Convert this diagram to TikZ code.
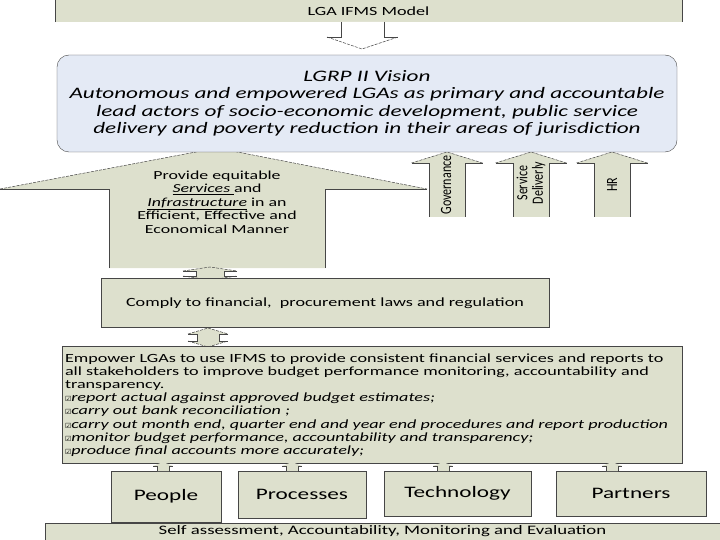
\documentclass[tikz,border=0pt]{standalone}
\usepackage{fontspec}
\setmainfont{Carlito}[FakeStretch=1.45]
\newfontfamily\plainfont{Carlito}
\newfontfamily\symfont{DejaVu Sans}
\usepackage{tikz}
\usetikzlibrary{positioning}
\definecolor{olivebg}{RGB}{221,224,205}
\definecolor{visionbg}{RGB}{228,234,245}
\definecolor{edge}{RGB}{70,70,70}
\newcommand{\tickbox}{{\symfont\fontsize{7}{7}\selectfont ☑}}
\tikzset{
  box/.style   ={draw=edge, fill=olivebg, rectangle, inner sep=0pt, align=center},
  vbox/.style  ={draw=edge, fill=visionbg, rectangle, rounded corners=12pt, inner sep=0pt, align=center},
  rim/.style   ={draw=edge, line width=0.6pt},
  slant/.style ={draw=edge, line width=0.5pt, dash pattern=on 3pt off 1.2pt},
  rot/.style   ={rotate=90, yscale=1.3, font=\plainfont\fontsize{12}{12}\selectfont, align=center},
}

\begin{document}
\begin{tikzpicture}[x=1pt, y=-1pt]
  \useasboundingbox (0,0) rectangle (720,540);

  % model banner (open at the bottom)
  \node[fill=olivebg, minimum width=627pt, minimum height=22pt, inner sep=0pt] (model) at (368.5,11)
       {\fontsize{12.5}{13}\selectfont LGA IFMS Model};
  \draw[rim] (model.south west) -- (model.north west) -- (model.north east) -- (model.south east);

  % down arrow into the vision box
  \fill[white] (341,22) -- (341,37) -- (327,37) -- (362,49) -- (398,37) -- (384,37) -- (384,22) -- cycle;
  \draw[rim] (341,22) -- (341,37) -- (327,37);
  \draw[rim] (384,22) -- (384,37) -- (398,37);
  \draw[slant] (327,37) -- (362,49) -- (398,37);

  % big up arrow
  \fill[olivebg] (109,268) -- (109,189) -- (0,189) -- (217,148) -- (427,189) -- (325,189) -- (325,268) -- cycle;
  \draw[rim] (109,268) -- (109,189) -- (0,189);
  \draw[rim] (325,268) -- (325,189) -- (427,189);
  \draw[slant] (0,189) -- (217,148) -- (427,189);
  \node[align=center, font=\fontsize{12.3}{13.4}\selectfont] (provide) at (217,202)
       {Provide equitable\\\underline{\textit{Services} }and\\\underline{\textit{Infrastructure}} in an\\Efficient, Effective and\\Economical Manner};

  % three small up arrows
  \foreach \cx in {447,531,612} {
    \fill[olivebg] (\cx-18,217) -- (\cx-18,163) -- (\cx-35.5,163) -- (\cx,152) -- (\cx+35.5,163) -- (\cx+18,163) -- (\cx+18,217) -- cycle;
    \draw[rim] (\cx-18,217) -- (\cx-18,163) -- (\cx-35.5,163);
    \draw[rim] (\cx+18,217) -- (\cx+18,163) -- (\cx+35.5,163);
    \draw[slant] (\cx-35.5,163) -- (\cx,152) -- (\cx+35.5,163);
  }
  \node[rot] (gov) at (446,185) {Governance};
  \node[rot] (serv) at (531,183) {Service\\Deliverly};
  \node[rot] (hr) at (612,185) {HR};

  % vision
  \node[vbox, minimum width=620pt, minimum height=97pt, font=\itshape\fontsize{16}{17.5}\selectfont] (vision) at (367,103.5)
       {LGRP II Vision\\Autonomous and empowered LGAs as primary and accountable\\lead actors of socio-economic development, public service\\delivery and poverty reduction in their areas of jurisdiction};

  % double arrows
  \fill[olivebg] (196,271) -- (183,271) -- (210,267) -- (237,271) -- (224,271) -- (224,276) -- (237,276) -- (210,280) -- (183,276) -- (196,276) -- cycle;
  \draw[rim] (183,271) -- (196,271) -- (196,276) -- (183,276);
  \draw[rim] (237,271) -- (224,271) -- (224,276) -- (237,276);
  \draw[slant] (183,271) -- (210,267) -- (237,271);
  \draw[slant] (183,276) -- (210,280) -- (237,276);

  \node[box, minimum width=448pt, minimum height=49pt, font=\fontsize{12.5}{14}\selectfont] (comply) at (325,303)
       {Comply to financial,\ \ procurement laws and regulation};

  \fill[olivebg] (197,334) -- (188,334) -- (208,328) -- (228,334) -- (219,334) -- (219,341) -- (228,341) -- (208,347) -- (188,341) -- (197,341) -- cycle;
  \draw[rim] (188,334) -- (197,334) -- (197,341) -- (188,341);
  \draw[rim] (228,334) -- (219,334) -- (219,341) -- (228,341);
  \draw[slant] (188,334) -- (208,328) -- (228,334);
  \draw[slant] (188,341) -- (208,347) -- (228,341);

  % empower box
  \node[box, minimum width=620pt, minimum height=117pt, text width=614pt, align=left, font=\fontsize{12.5}{13.2}\selectfont] (empower) at (372,405)
       {Empower LGAs to use IFMS to provide consistent financial services and reports to\\
        all stakeholders to improve budget performance monitoring, accountability and\\
        transparency.\\
        \tickbox\textit{report actual against approved budget estimates;}\\
        \tickbox\textit{carry out bank reconciliation ;}\\
        \tickbox\textit{carry out month end, quarter end and year end procedures and report production}\\
        \tickbox\textit{monitor budget performance, accountability and transparency;}\\
        \tickbox\textit{produce final accounts more accurately;}};

  % pillars
  \node[box, minimum width=110pt, minimum height=51pt, font=\fontsize{16}{18}\selectfont] (people) at (166,496.5) {People};
  \node[box, minimum width=128pt, minimum height=47pt, font=\fontsize{16}{18}\selectfont] (proc) at (302,494.5) {Processes};
  \node[box, minimum width=147pt, minimum height=45pt, font=\fontsize{16}{18}\selectfont] (tech) at (457.5,493.5) {Technology};
  \node[box, minimum width=150pt, minimum height=45pt, font=\fontsize{16}{18}\selectfont] (part) at (631,493.5) {Partners};

  \foreach \cx in {163,292,443,612} {
    \fill[olivebg] (\cx-6,471) -- (\cx-6,466) -- (\cx-10,466) -- (\cx,462) -- (\cx+10,466) -- (\cx+6,466) -- (\cx+6,471) -- cycle;
    \draw[rim] (\cx-6,471) -- (\cx-6,466) -- (\cx-10,466);
    \draw[rim] (\cx+6,471) -- (\cx+6,466) -- (\cx+10,466);
  }

  % bottom bar
  \node[box, minimum width=675pt, minimum height=17pt, font=\fontsize{12.95}{13}\selectfont] (selfbar) at (382.5,531.5)
       {Self assessment, Accountability, Monitoring and Evaluation};
\end{tikzpicture}
\end{document}
